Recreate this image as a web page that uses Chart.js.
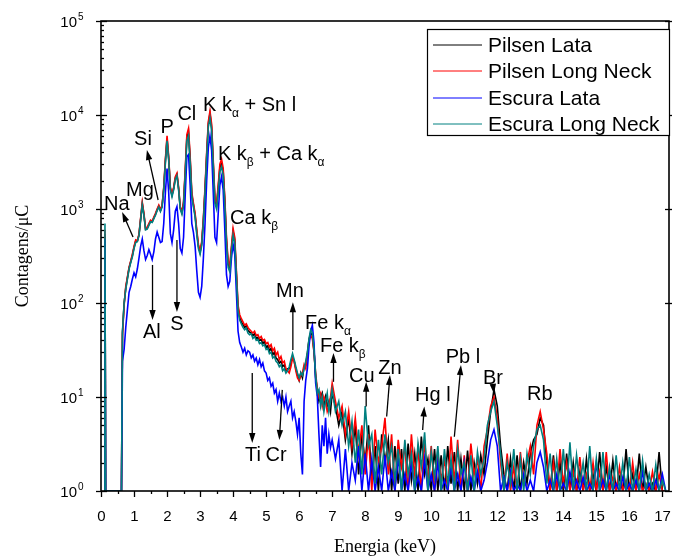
<!DOCTYPE html>
<html>
<head>
<meta charset="utf-8">
<script src="https://cdn.jsdelivr.net/npm/chart.js@4.4.0/dist/chart.umd.min.js"></script>
<style>
  html, body { margin: 0; padding: 0; background: #fff; }
  canvas { display: block; }
</style>
</head>
<body>
<canvas id="chart" width="673" height="560"></canvas>
<script>
// Energy of each plotted channel (keV)
const energies = [
  0.1, 0.12, 0.14, 0.62,
  0.65, 0.7, 0.75, 0.8, 0.85, 0.9, 0.95, 1, 1.05, 1.1, 1.15, 1.2, 1.25, 1.3, 1.35, 1.4, 1.45, 1.5, 1.55, 1.6,
  1.65, 1.7, 1.75, 1.8, 1.85, 1.9, 1.95, 2, 2.05, 2.1, 2.15, 2.2, 2.25, 2.3, 2.35, 2.4, 2.45, 2.5, 2.55, 2.6,
  2.65, 2.7, 2.75, 2.8, 2.85, 2.9, 2.95, 3, 3.05, 3.1, 3.15, 3.2, 3.25, 3.3, 3.35, 3.4, 3.45, 3.5, 3.55, 3.6,
  3.65, 3.7, 3.75, 3.8, 3.85, 3.9, 3.95, 4, 4.05, 4.1, 4.15, 4.2, 4.25, 4.3, 4.35, 4.4, 4.45, 4.5, 4.55, 4.6,
  4.65, 4.7, 4.75, 4.8, 4.85, 4.9, 4.95, 5, 5.05, 5.1, 5.15, 5.2, 5.25, 5.3, 5.35, 5.4, 5.45, 5.5, 5.55, 5.6,
  5.65, 5.7, 5.75, 5.8, 5.85, 5.9, 5.95, 6, 6.05, 6.1, 6.15, 6.2, 6.25, 6.3, 6.35, 6.4, 6.45, 6.5, 6.55, 6.6,
  6.65, 6.7, 6.75, 6.8, 6.85, 6.9, 6.95, 7,
  7.1, 7.2, 7.3, 7.4, 7.5, 7.6, 7.7, 7.8, 7.9, 8,
  8.1, 8.2, 8.3, 8.4, 8.5, 8.6, 8.7, 8.8, 8.9, 9,
  9.1, 9.2, 9.3, 9.4, 9.5, 9.6, 9.7, 9.8, 9.9, 10,
  10.1, 10.2, 10.3, 10.4, 10.5, 10.6, 10.7, 10.8, 10.9, 11,
  11.1, 11.2, 11.3, 11.4, 11.5, 11.6, 11.7, 11.8, 11.9, 12,
  12.1, 12.2, 12.3, 12.4, 12.5, 12.6, 12.7, 12.8, 12.9, 13,
  13.1, 13.2, 13.3, 13.4, 13.5, 13.6, 13.7, 13.8, 13.9, 14,
  14.1, 14.2, 14.3, 14.4, 14.5, 14.6, 14.7, 14.8, 14.9, 15,
  15.1, 15.2, 15.3, 15.4, 15.5, 15.6, 15.7, 15.8, 15.9, 16,
  16.1, 16.2, 16.3, 16.4, 16.5, 16.6, 16.7, 16.8, 16.9, 17,
  17.1
];

// Counts/uC, one value per energy above
const pilsenLata = [
  1, 540, 1, 1,
  48, 98, 145, 185, 235, 275, 320, 390, 455, 455, 530, 780, 1140, 870, 610, 625, 685, 745, 730, 805,
  880, 980, 1075, 960, 1075, 1650, 3250, 5600, 3450, 1650, 1400, 1650, 2120, 2320, 1650, 1020, 910, 1150, 2450, 5800,
  6600, 3350, 1420, 1100, 860, 570, 400, 345, 430, 760, 1600, 3750, 8000, 10300, 7400, 3000, 1220, 1070, 1680, 2750,
  3100, 2500, 1200, 460, 260, 232, 375, 575, 470, 205, 88, 70, 63, 59, 55, 57, 51, 49, 48, 45,
  47, 42, 43, 40, 41, 37, 39, 34, 35, 31, 33, 28, 30, 26, 25, 23, 24, 21, 22, 19,
  20, 20, 23, 27, 24, 20, 17, 15, 18, 16, 21, 22, 29, 41, 48, 45, 31, 16, 12, 9,
  10, 11, 8, 10, 8, 9, 7, 11,
  8, 5, 7, 3.5, 6, 2.5, 5, 1.5, 4, 2,
  5, 1.3, 3, 1, 4, 2, 3.5, 1, 3, 1.2,
  2.8, 1, 3.2, 1.3, 2.5, 1, 3.8, 1.5, 2.2, 1,
  2.8, 1, 2.4, 1, 3, 1.2, 2.6, 1, 2.2, 1,
  2.7, 1, 2, 1.2, 2.4, 1.5, 3.5, 7, 12, 8,
  3, 1.5, 1, 2.2, 1, 2.4, 1, 2, 1.2, 2.5,
  3.5, 4, 6, 5, 2, 1, 2.4, 1, 2, 1,
  2.5, 1, 2, 1, 1.6, 1, 2.2, 1, 1.5, 1,
  2.6, 1, 1.8, 1, 2.1, 1, 1.4, 1, 2.8, 1,
  1.5, 1, 2.5, 1, 1.8, 1, 1.2, 1, 2.6, 1,
  1
];

const pilsenLongNeck = [
  1, 600, 1, 1,
  45, 95, 150, 190, 240, 280, 330, 400, 470, 460, 540, 800, 1180, 900, 620, 640, 700, 760, 740, 820,
  900, 1000, 1100, 980, 1100, 1700, 3400, 6000, 3600, 1700, 1450, 1700, 2200, 2400, 1700, 1050, 950, 1200, 2600, 6200,
  7200, 3600, 1500, 1150, 900, 600, 420, 360, 450, 800, 1700, 4000, 8500, 11000, 8000, 3200, 1300, 1150, 1800, 3000,
  3400, 2700, 1300, 500, 280, 250, 400, 620, 500, 220, 95, 75, 68, 63, 58, 60, 55, 52, 50, 48,
  50, 45, 46, 42, 44, 40, 41, 37, 38, 34, 36, 31, 33, 28, 30, 25, 27, 23, 24, 20,
  19, 18, 21, 26, 24, 19, 16, 15, 17, 18, 22, 20, 28, 40, 45, 42, 30, 18, 12, 10,
  11, 8, 10, 9, 7, 8, 10, 14,
  9, 6, 8, 4, 7, 3, 6, 2.5, 5, 1.5,
  4, 1, 4.5, 2, 3, 6, 1.5, 4, 1, 3.5,
  1.8, 3, 1, 4, 1.5, 2.8, 1, 3.5, 1.2, 3,
  1, 2.5, 1.3, 2.2, 1, 3.8, 1.2, 3.5, 1, 2.4,
  1, 3.2, 1.5, 2.2, 1, 3, 4.5, 8, 10, 6,
  2, 1, 2.5, 1, 1.8, 1, 2.6, 1.2, 2, 3,
  1.5, 5, 7, 4.5, 2.5, 1, 2, 1, 2.8, 1.2,
  2, 1, 1.6, 1, 2.3, 1, 1.5, 1, 2, 1,
  1.6, 1, 2.6, 1, 1.4, 1, 1.8, 1, 1.3, 1,
  2, 1, 1.5, 1, 1.2, 1, 1.6, 1, 1.5, 1,
  1
];

const escuraLata = [
  1, 480, 1, 1,
  24, 32, 55, 85, 130, 150, 180, 210, 190, 230, 300, 400, 480, 360, 290, 320, 370, 330, 290, 350,
  480, 570, 500, 440, 450, 700, 1500, 2700, 1500, 550, 440, 600, 950, 1060, 700, 380, 340, 500, 1400, 3600,
  3800, 1800, 700, 560, 400, 220, 130, 115, 150, 300, 700, 2000, 4500, 6000, 4200, 1500, 500, 440, 900, 1800,
  2200, 1600, 600, 200, 150, 170, 300, 420, 330, 130, 50, 38, 34, 30, 33, 28, 31, 30, 26, 28,
  24, 26, 22, 25, 21, 23, 19, 18, 15, 16, 13, 14, 11, 12, 9, 11, 9, 10, 8, 10,
  7, 8, 9, 6, 7, 5.5, 4, 6, 2.5, 1.5, 9, 15, 20, 35, 50, 58, 38, 14, 10, 4,
  1.8, 5, 3, 6, 2.5, 4, 2.9, 3.5,
  2.2, 3.5, 1, 2.8, 1, 2, 1.3, 3, 1, 2.5,
  1, 2.2, 1, 1.8, 1, 2.4, 1, 1.6, 1, 2.3,
  1, 1.5, 1, 2, 1, 1.4, 1, 2.2, 1, 1.5,
  1, 2, 1, 1.3, 1, 1.8, 1, 1.5, 1, 2,
  1, 1.4, 1, 1.6, 1, 1.3, 2, 3.5, 4.5, 3,
  1, 1.4, 1, 1.6, 1, 1.2, 1, 1.5, 1, 1.3,
  1, 2, 2.6, 1.8, 1, 1.3, 1, 1.5, 1, 1.2,
  1, 1.6, 1, 1.3, 1, 1.4, 1, 1.2, 1, 2,
  1, 1.3, 1, 1.5, 1, 1.2, 1, 1.4, 1, 1.2,
  1, 1.3, 1, 1.6, 1, 1.2, 1, 1.3, 1, 1.5,
  1
];

const escuraLongNeck = [
  1, 700, 1, 1,
  50, 100, 140, 180, 230, 270, 310, 380, 440, 450, 520, 760, 1100, 850, 600, 610, 670, 730, 720, 790,
  860, 960, 1050, 940, 1050, 1600, 3100, 5300, 3300, 1600, 1350, 1600, 2050, 2250, 1600, 1000, 880, 1100, 2300, 5300,
  6000, 3100, 1350, 1050, 820, 540, 380, 330, 410, 720, 1500, 3500, 7500, 9300, 6800, 2800, 1150, 1000, 1550, 2500,
  2800, 2300, 1100, 430, 240, 215, 350, 530, 440, 190, 82, 66, 60, 55, 52, 54, 48, 46, 47, 42,
  44, 40, 41, 37, 38, 35, 36, 32, 33, 29, 30, 26, 27, 24, 23, 21, 22, 19, 20, 18,
  19, 21, 25, 29, 25, 21, 18, 16, 18, 17, 20, 24, 30, 42, 52, 48, 32, 17, 11, 12,
  8, 10, 7, 9, 11, 7, 9, 12,
  7, 9, 5, 7, 3, 5.5, 2, 4.5, 1.5, 8,
  3, 4, 1.2, 3.5, 1.5, 4, 2, 3, 1.3, 2.8,
  1, 3.5, 1.5, 2.5, 1, 3.2, 1.8, 4.2, 1, 2.6,
  1.4, 3, 1, 2.8, 1.2, 2.2, 1, 2.8, 1.5, 2,
  1, 2.4, 1, 2.6, 1.5, 2.2, 5, 7, 9, 5,
  2.5, 1, 2, 1.2, 2.8, 1, 2.2, 1, 2.5, 1.5,
  3, 4.5, 5, 3.5, 1.2, 2.5, 1, 2.2, 1, 2.8,
  1, 3.3, 1, 2.4, 1.2, 2, 1, 3, 1, 2.2,
  1, 2.6, 1, 1.8, 1, 2.4, 1, 2, 1, 2.3,
  1, 1.7, 1, 2.1, 1, 1.5, 1, 1.9, 1, 1.3,
  1
];

const seriesNames = ['Pilsen Lata', 'Pilsen Long Neck', 'Escura Lata', 'Escura Long Neck'];
const seriesColors = ['#000000', '#ff0000', '#0000ff', '#008080'];
const seriesValues = [pilsenLata, pilsenLongNeck, escuraLata, escuraLongNeck];

const xTickValues = [0, 1, 2, 3, 4, 5, 6, 7, 8, 9, 10, 11, 12, 13, 14, 15, 16, 17];
const yDecades = [0, 1, 2, 3, 4, 5];

// Element labels, placed in data coordinates [energy, counts]; [text, isSubscript]
const peakLabels = [
  { e: 0.48, v: 976, align: 'center', parts: [['Na']] },
  { e: 1.18, v: 1375, align: 'center', parts: [['Mg']] },
  { e: 1.27, v: 4800, align: 'center', parts: [['Si']] },
  { e: 2.0, v: 6440, align: 'center', parts: [['P']] },
  { e: 2.6, v: 8850, align: 'center', parts: [['Cl']] },
  { e: 3.09, v: 11040, align: 'left', parts: [['K k'], ['\u03b1', true], [' + Sn l']] },
  { e: 3.54, v: 3320, align: 'left', parts: [['K k'], ['\u03b2', true], [' + Ca k'], ['\u03b1', true]] },
  { e: 3.91, v: 692, align: 'left', parts: [['Ca k'], ['\u03b2', true]] },
  { e: 1.54, v: 42.4, align: 'center', parts: [['Al']] },
  { e: 2.3, v: 51.6, align: 'center', parts: [['S']] },
  { e: 5.72, v: 116, align: 'center', parts: [['Mn']] },
  { e: 6.18, v: 52.9, align: 'left', parts: [['Fe k'], ['\u03b1', true]] },
  { e: 6.63, v: 30.1, align: 'left', parts: [['Fe k'], ['\u03b2', true]] },
  { e: 7.9, v: 14.4, align: 'center', parts: [['Cu']] },
  { e: 8.75, v: 17.6, align: 'center', parts: [['Zn']] },
  { e: 10.05, v: 9.07, align: 'center', parts: [['Hg l']] },
  { e: 10.96, v: 23, align: 'center', parts: [['Pb l']] },
  { e: 11.87, v: 13.7, align: 'center', parts: [['Br']] },
  { e: 13.29, v: 9.3, align: 'center', parts: [['Rb']] },
  { e: 4.6, v: 2.08, align: 'center', parts: [['Ti']] },
  { e: 5.3, v: 2.08, align: 'center', parts: [['Cr']] }
];

// Arrows: tail [energy, counts] -> head [energy, counts]
const peakArrows = [
  [0.97, 504, 0.64, 929],
  [1.73, 1247, 1.39, 4245],
  [1.56, 254, 1.56, 66],
  [2.3, 468, 2.3, 80],
  [5.81, 31.6, 5.81, 102],
  [4.58, 18, 4.58, 3.24],
  [5.49, 11.9, 5.4, 3.49],
  [7.04, 14.5, 7.04, 29.4],
  [8.03, 7.9, 8.03, 14.5],
  [8.65, 6.2, 8.75, 17.1],
  [9.74, 4.46, 9.79, 7.9],
  [10.7, 3.78, 10.9, 21.9],
  [11.87, 13.4, 11.9, 10.8]
];

const sans = "'Liberation Sans', Arial, sans-serif";
const serif = "'Liberation Serif', 'Times New Roman', serif";

function drawParts(ctx, parts, x, y, align, size) {
  let total = 0;
  const widths = parts.map(p => {
    ctx.font = (p[1] ? Math.round(size * 0.62) : size) + 'px ' + sans;
    const w = ctx.measureText(p[0]).width;
    total += w;
    return w;
  });
  let cx = align === 'center' ? x - total / 2 : x;
  ctx.textAlign = 'left';
  ctx.textBaseline = 'alphabetic';
  parts.forEach((p, i) => {
    ctx.font = (p[1] ? Math.round(size * 0.62) : size) + 'px ' + sans;
    ctx.fillText(p[0], cx, p[1] ? y + size * 0.3 : y);
    cx += widths[i];
  });
}

function drawArrow(ctx, x0, y0, x1, y1) {
  const ang = Math.atan2(y1 - y0, x1 - x0);
  const len = 10, half = 3.2;
  ctx.beginPath();
  ctx.moveTo(x0, y0);
  ctx.lineTo(x1 - Math.cos(ang) * len * 0.8, y1 - Math.sin(ang) * len * 0.8);
  ctx.stroke();
  ctx.beginPath();
  ctx.moveTo(x1, y1);
  ctx.lineTo(x1 - len * Math.cos(ang) + half * Math.sin(ang), y1 - len * Math.sin(ang) - half * Math.cos(ang));
  ctx.lineTo(x1 - len * Math.cos(ang) - half * Math.sin(ang), y1 - len * Math.sin(ang) + half * Math.cos(ang));
  ctx.closePath();
  ctx.fill();
}

const originStyle = {
  id: 'originStyle',
  afterDraw(chart) {
    const { ctx, chartArea: a, scales: { x, y } } = chart;
    ctx.save();
    ctx.strokeStyle = '#000';
    ctx.fillStyle = '#000';

    // frame
    ctx.lineWidth = 1.6;
    ctx.strokeRect(a.left, a.top, a.right - a.left, a.bottom - a.top);

    // x ticks + labels
    ctx.lineWidth = 1.3;
    ctx.font = '15px ' + sans;
    ctx.textAlign = 'center';
    ctx.textBaseline = 'middle';
    xTickValues.forEach(t => {
      const px = Math.round(x.getPixelForValue(t)) + 0.5;
      ctx.beginPath(); ctx.moveTo(px, a.bottom); ctx.lineTo(px, a.bottom + 6); ctx.stroke();
      ctx.fillText(String(t), px, a.bottom + 26);
      const mx = t + 0.5;
      if (mx < x.max) {
        const pm = Math.round(x.getPixelForValue(mx)) + 0.5;
        ctx.beginPath(); ctx.moveTo(pm, a.bottom); ctx.lineTo(pm, a.bottom + 3); ctx.stroke();
      }
    });

    // y ticks + labels
    yDecades.forEach(d => {
      const py = Math.round(y.getPixelForValue(Math.pow(10, d))) + 0.5;
      ctx.beginPath(); ctx.moveTo(a.left - 5, py); ctx.lineTo(a.left + 6, py); ctx.stroke();
      ctx.beginPath(); ctx.moveTo(a.right - 4, py); ctx.lineTo(a.right + 3, py); ctx.stroke();
      ctx.font = '15px ' + sans;
      ctx.textAlign = 'right';
      ctx.textBaseline = 'alphabetic';
      ctx.fillText('10', a.left - 24, py + 5);
      ctx.font = '10px ' + sans;
      ctx.textAlign = 'left';
      ctx.fillText(String(d), a.left - 23, py - 2);
      if (d < 5) {
        for (let m = 2; m <= 9; m++) {
          const pm = Math.round(y.getPixelForValue(m * Math.pow(10, d))) + 0.5;
          ctx.beginPath(); ctx.moveTo(a.left, pm); ctx.lineTo(a.left + 3, pm); ctx.stroke();
        }
      }
    });

    // peak arrows
    ctx.lineWidth = 1.3;
    peakArrows.forEach(([e0, v0, e1, v1]) => {
      drawArrow(ctx, x.getPixelForValue(e0), y.getPixelForValue(v0), x.getPixelForValue(e1), y.getPixelForValue(v1));
    });

    // peak labels
    peakLabels.forEach(l => {
      drawParts(ctx, l.parts, x.getPixelForValue(l.e), y.getPixelForValue(l.v), l.align, 20);
    });

    // legend box
    const bx = a.right - 242, by = a.top + 8, bw = 242, bh = 106;
    ctx.fillStyle = '#fff';
    ctx.fillRect(bx, by, bw, bh);
    ctx.lineWidth = 1.2;
    ctx.strokeStyle = '#000';
    ctx.strokeRect(bx + 0.5, by + 0.5, bw, bh);
    ctx.font = '21px ' + sans;
    ctx.textAlign = 'left';
    ctx.textBaseline = 'middle';
    seriesNames.forEach((name, i) => {
      const ly = Math.round(by + 16 + i * 26.3);
      ctx.strokeStyle = seriesColors[i];
      ctx.lineWidth = 1;
      ctx.beginPath(); ctx.moveTo(bx + 6, ly); ctx.lineTo(bx + 55, ly); ctx.stroke();
      ctx.fillStyle = '#000';
      ctx.fillText(name, bx + 61, ly + 1);
    });
    ctx.restore();
  }
};

new Chart(document.getElementById('chart'), {
  type: 'line',
  data: {
    datasets: seriesNames.map((name, i) => ({
      label: name,
      data: energies.map((e, k) => ({ x: e, y: seriesValues[i][k] })),
      borderColor: seriesColors[i],
      backgroundColor: seriesColors[i],
      borderWidth: 1.6,
      pointRadius: 0,
      tension: 0,
      fill: false,
      order: 3 - i
    }))
  },
  options: {
    responsive: false,
    animation: false,
    devicePixelRatio: 1,
    layout: { padding: { top: 21, right: 4, left: 0, bottom: 0 } },
    plugins: { legend: { display: false }, tooltip: { enabled: false } },
    scales: {
      x: {
        type: 'linear', min: 0, max: 17.2,
        ticks: { display: false }, grid: { display: false }, border: { display: false },
        title: { display: true, text: 'Energia (keV)', color: '#000', font: { family: serif, size: 18 }, padding: { top: 0, bottom: 2 } },
        afterFit: s => { s.height = 69; }
      },
      y: {
        type: 'logarithmic', min: 1, max: 100000,
        ticks: { display: false }, grid: { display: false }, border: { display: false },
        title: { display: true, text: 'Contagens/\u03bcC', color: '#000', font: { family: serif, size: 18 }, padding: { top: 12, bottom: 0 } },
        afterFit: s => { s.width = 101; }
      }
    }
  },
  plugins: [originStyle]
});
</script>
</body>
</html>
